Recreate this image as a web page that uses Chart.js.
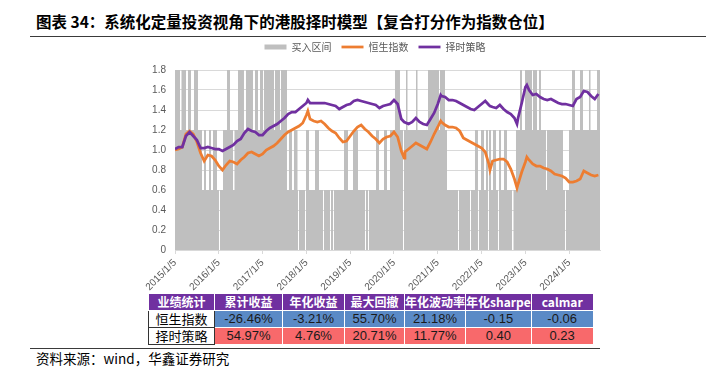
<!DOCTYPE html>
<html>
<head>
<meta charset="utf-8">
<script src="https://cdn.jsdelivr.net/npm/chart.js@4.4.0/dist/chart.umd.min.js"></script>
<style>
  body { margin: 0; width: 706px; height: 372px; background: #fff; position: relative; overflow: hidden; font-family: "Noto Sans CJK SC", sans-serif; }
  #title { position: absolute; left: 36px; top: 11px; font-size: 15.5px; font-weight: 700; color: #000; white-space: nowrap; line-height: 20px; }
  .rule { position: absolute; height: 1px; background: #3a3a3a; }
  #chartBox { position: absolute; left: 0; top: 32px; width: 706px; height: 260px; }
  #stats { position: absolute; left: 148px; top: 293px; border-collapse: collapse; table-layout: fixed; }
  #stats td { height: 16px; padding: 0; border: 1px solid #fff; text-align: center; white-space: nowrap; overflow: hidden; font-size: 13px; line-height: 16px; color: #1a1a1a; font-family: "Liberation Sans", "Noto Sans CJK SC", sans-serif; }
  #stats tr.head td { background: #7030A0; color: #fff; font-weight: 700; font-size: 12px; font-family: "Noto Sans CJK SC", sans-serif; }
  #stats td.name { background: #fff; border: 1px solid #333; font-family: "Noto Sans CJK SC", sans-serif; font-size: 13px; color: #000; }
  #stats tr.hsi td.val { background: #5A8AC6; }
  #stats tr.strat td.val { background: #F8696B; }
  #source { position: absolute; left: 36px; top: 349px; font-size: 13.5px; color: #000; line-height: 18px; }
</style>
</head>
<body>
<div id="title">图表 34：系统化定量投资视角下的港股择时模型【复合打分作为指数仓位】</div>
<div class="rule" style="left:30px; top:36px; width:676px;"></div>
<div id="chartBox"><canvas id="timingChart"></canvas></div>
<table id="stats"></table>
<div class="rule" style="left:30px; top:348px; width:570px;"></div>
<div id="source">资料来源：wind，华鑫证券研究</div>

<script>
// x axis = months since 2015/1/5
const yearTicks = ['2015/1/5', '2016/1/5', '2017/1/5', '2018/1/5', '2019/1/5',
                   '2020/1/5', '2021/1/5', '2022/1/5', '2023/1/5', '2024/1/5'];

// sample months for the two lines (monthly, plus a few turning points)
const lineMonths = [
  0, 1, 2, 3, 4, 5, 6, 7, 8, 9,
  10, 11, 12, 13, 14, 15, 16, 17, 18, 19,
  20, 21, 22, 23, 24, 25, 26, 27, 28, 29,
  30, 31, 32, 33, 34, 35, 36, 36.4,
  37, 38, 39, 40, 41, 42, 43, 44, 45, 46,
  47, 48, 49, 50, 51, 52, 53, 54, 55, 56,
  57, 58, 59, 60, 61, 62, 62.8,
  63, 64, 65, 66, 67, 68, 69, 70, 71, 72, 72.8,
  73, 74, 75, 76, 77, 78, 79, 80, 81, 82, 83, 84, 85, 86, 86.3,
  87, 88, 89, 90, 91, 92, 93, 93.7,
  94, 95, 96, 96.4,
  97, 98, 99, 100, 101, 102, 103, 104, 105, 106,
  107, 108, 109, 110, 111, 112, 113, 114, 115, 116
];

// normalised to 1 at start
const hsiValues = [
  1.00, 1.01, 1.03, 1.16, 1.19, 1.16, 1.08, 0.97, 0.89, 0.95,
  0.94, 0.90, 0.84, 0.80, 0.85, 0.89, 0.88, 0.86, 0.90, 0.93,
  0.97, 0.98, 0.96, 0.94, 0.96, 1.00, 1.02, 1.04, 1.07, 1.11,
  1.15, 1.18, 1.20, 1.22, 1.24, 1.27, 1.35, 1.39,
  1.31, 1.29, 1.28, 1.29, 1.26, 1.22, 1.19, 1.17, 1.12, 1.08,
  1.09, 1.14, 1.19, 1.23, 1.25, 1.21, 1.18, 1.14, 1.11, 1.07,
  1.11, 1.13, 1.14, 1.18, 1.13, 0.99, 0.92,
  0.98, 1.01, 1.04, 1.07, 1.05, 1.03, 1.01, 1.08, 1.16, 1.23, 1.29,
  1.28, 1.25, 1.23, 1.23, 1.22, 1.19, 1.12, 1.10, 1.08, 1.06, 1.04, 1.02, 0.98, 0.86, 0.80,
  0.89, 0.90, 0.91, 0.91, 0.88, 0.81, 0.71, 0.62,
  0.66, 0.78, 0.88, 0.93,
  0.90, 0.86, 0.84, 0.84, 0.82, 0.81, 0.79, 0.76, 0.75, 0.74,
  0.72, 0.68, 0.68, 0.69, 0.71, 0.79, 0.77, 0.75, 0.74, 0.75
];
const stratValues = [
  1.01, 1.03, 1.03, 1.14, 1.18, 1.14, 1.10, 1.02, 1.02, 1.03,
  1.02, 1.01, 1.01, 0.99, 1.01, 1.03, 1.05, 1.09, 1.11, 1.17,
  1.21, 1.19, 1.18, 1.15, 1.15, 1.19, 1.22, 1.24, 1.26, 1.29,
  1.32, 1.36, 1.38, 1.38, 1.41, 1.44, 1.47, 1.50,
  1.47, 1.47, 1.47, 1.47, 1.47, 1.46, 1.45, 1.44, 1.41, 1.43,
  1.45, 1.46, 1.49, 1.50, 1.49, 1.48, 1.47, 1.46, 1.45, 1.42,
  1.44, 1.45, 1.46, 1.50, 1.46, 1.31, 1.28,
  1.28, 1.26, 1.28, 1.32, 1.28, 1.26, 1.25, 1.31, 1.37, 1.46, 1.55,
  1.54, 1.53, 1.50, 1.50, 1.49, 1.47, 1.45, 1.43, 1.41, 1.40, 1.43, 1.46, 1.49, 1.45, 1.44,
  1.43, 1.42, 1.45, 1.41, 1.38, 1.36, 1.32, 1.26,
  1.32, 1.47, 1.63, 1.65,
  1.60, 1.55, 1.56, 1.53, 1.51, 1.50, 1.51, 1.49, 1.47, 1.46,
  1.46, 1.45, 1.44, 1.51, 1.53, 1.59, 1.58, 1.54, 1.51, 1.56
];

// buy interval: position level (score * 1.8) from each start month on
const posStart = [
  0, 1.37, 1.78, 3.01, 3.56, 4.38, 5.21, 6.30, 7.40, 7.95,
  8.49, 9.32, 9.86, 10.41, 11.51, 12.05, 12.33, 13.15, 14.25, 15.07,
  15.89, 16.30, 17.26, 18.90, 19.45, 21.37, 21.92, 22.74, 23.29, 24.11,
  24.38, 27.12, 27.40, 28.77, 29.04, 30.68, 31.23, 32.05, 32.60, 33.56,
  33.70, 33.97, 35.62, 35.89, 36.71, 38.36, 39.45, 40.55, 40.82, 42.47,
  42.74, 43.29, 43.56, 46.30, 47.40, 48.77, 50.14, 52.05, 52.33, 52.88,
  53.15, 55.07, 55.89, 57.26, 58.08, 58.90, 60.27, 61.64, 62.47, 62.74,
  63.29, 63.70, 66.03, 66.44, 69.32, 72.33, 72.60, 73.97, 74.52, 77.53,
  77.81, 80.82, 81.10, 82.19, 83.01, 83.29, 83.84, 84.66, 85.21, 85.75,
  86.03, 86.58, 87.12, 87.95, 88.49, 88.77, 89.32, 90.14, 90.96, 92.33,
  92.74, 93.42, 94.52, 95.07, 95.89, 97.81, 98.08, 99.18, 99.73, 100.27,
  101.64, 101.92, 106.30, 106.85, 107.12, 107.95, 108.77, 109.59, 110.96, 111.78,
  113.42, 113.84, 115.62, 116.44
];
const posLevel = [
  1.8, 1.2, 1.8, 1.2, 1.8, 1.2, 1.8, 1.2, 0.6, 1.2,
  0.6, 1.2, 0.6, 1.2, 0.6, 0, 0.6, 1.2, 1.8, 1.2,
  0.6, 1.2, 1.8, 1.2, 1.8, 1.2, 1.8, 1.2, 1.8, 1.2,
  1.8, 1.2, 1.8, 1.2, 1.8, 0.6, 1.2, 0.6, 1.2, 0.6,
  0, 0.6, 0, 1.2, 0.6, 1.2, 0.6, 0, 0.6, 0,
  0.6, 0, 0.6, 1.2, 0.6, 1.2, 0.6, 0, 0.6, 0,
  0.6, 1.2, 0.6, 1.2, 0.6, 1.2, 1.8, 1.2, 0, 1.2,
  1.8, 1.2, 1.8, 1.2, 1.8, 1.2, 1.8, 1.2, 0.6, 0,
  0.6, 0, 0.6, 1.2, 0, 0.6, 1.2, 0.6, 1.2, 0,
  1.2, 0.6, 1.2, 0.6, 0, 1.2, 0.6, 1.2, 0.6, 0,
  0.6, 1.2, 1.8, 1.2, 1.8, 1.2, 1.8, 1.2, 1.8, 1.2,
  0.6, 1.2, 0.6, 0, 0.6, 1.2, 1.8, 1.2, 1.8, 1.2,
  1.8, 1.2, 1.8, 1.8
];

const tableHeader = ['业绩统计', '累计收益', '年化收益', '最大回撤', '年化波动率', '年化sharpe', 'calmar'];
const hsiStats = ['-26.46%', '-3.21%', '55.70%', '21.18%', '-0.15', '-0.06'];
const stratStats = ['54.97%', '4.76%', '20.71%', '11.77%', '0.40', '0.23'];
const colWidths = [66, 68, 62, 60, 60, 65, 62];

document.addEventListener('DOMContentLoaded', () => {
    renderTable();
    renderChart();
});

function renderTable() {
    const table = document.getElementById('stats');
    const cols = colWidths.map(w => `<col style="width:${w}px">`).join('');
    table.innerHTML = `<colgroup>${cols}</colgroup>
        <tr class="head">${tableHeader.map(h => `<td>${h}</td>`).join('')}</tr>
        <tr class="hsi"><td class="name">恒生指数</td>${hsiStats.map(v => `<td class="val">${v}</td>`).join('')}</tr>
        <tr class="strat"><td class="name">择时策略</td>${stratStats.map(v => `<td class="val">${v}</td>`).join('')}</tr>`;
}

// extra room under the legend
const legendGap = {
    id: 'legendGap',
    beforeInit(chart) {
        const fit = chart.legend.fit;
        chart.legend.fit = function () {
            fit.bind(chart.legend)();
            this.height += 8;
        };
    }
};

function renderChart() {
    const ctx = document.getElementById('timingChart').getContext('2d');
    const axisFont = { family: '"Liberation Sans", "Noto Sans CJK SC", sans-serif', size: 10 };

    new Chart(ctx, {
        type: 'line',
        data: {
            datasets: [{
                label: '买入区间',
                data: posStart.map((m, i) => ({ x: m, y: posLevel[i] })),
                stepped: 'before',
                fill: 'origin',
                backgroundColor: '#BFBFBF',
                borderColor: '#BFBFBF',
                borderWidth: 0,
                pointRadius: 0,
                pointStyle: 'rect',
                order: 3
            }, {
                label: '恒生指数',
                data: hsiValues.map((v, i) => ({ x: lineMonths[i], y: v })),
                borderColor: '#ED7D31',
                backgroundColor: '#ED7D31',
                borderWidth: 2.75,
                pointRadius: 0,
                pointStyle: 'line',
                tension: 0,
                order: 2
            }, {
                label: '择时策略',
                data: stratValues.map((v, i) => ({ x: lineMonths[i], y: v })),
                borderColor: '#7030A0',
                backgroundColor: '#7030A0',
                borderWidth: 2.75,
                pointRadius: 0,
                pointStyle: 'line',
                tension: 0,
                order: 1
            }]
        },
        options: {
            responsive: true,
            maintainAspectRatio: false,
            animation: false,
            layout: { padding: { left: 150, right: 106, top: 0, bottom: 0 } },
            plugins: {
                legend: {
                    position: 'top',
                    labels: {
                        usePointStyle: true,
                        pointStyleWidth: 22,
                        boxHeight: 5,
                        padding: 10,
                        color: '#595959',
                        font: { family: '"Noto Sans CJK SC", sans-serif', size: 10 },
                        sort: (a, b) => a.datasetIndex - b.datasetIndex
                    }
                },
                tooltip: { enabled: false }
            },
            scales: {
                x: {
                    type: 'linear',
                    min: 0,
                    max: 116.44,
                    afterFit: s => { s.height = 42; },
                    afterBuildTicks: s => { s.ticks = yearTicks.map((t, i) => ({ value: i * 12 })); },
                    grid: { drawOnChartArea: false, drawTicks: true, tickLength: 4, color: '#D9D9D9' },
                    border: { color: '#D9D9D9' },
                    ticks: {
                        minRotation: 45,
                        maxRotation: 45,
                        autoSkip: false,
                        color: '#595959',
                        font: axisFont,
                        callback: v => yearTicks[Math.round(v / 12)]
                    }
                },
                y: {
                    min: 0,
                    max: 1.8,
                    afterFit: s => { s.width = 25; },
                    grid: { color: '#D9D9D9', drawTicks: false },
                    border: { display: false },
                    ticks: { stepSize: 0.2, padding: 9, color: '#595959', font: axisFont }
                }
            }
        },
        plugins: [legendGap]
    });
}
</script>
</body>
</html>
